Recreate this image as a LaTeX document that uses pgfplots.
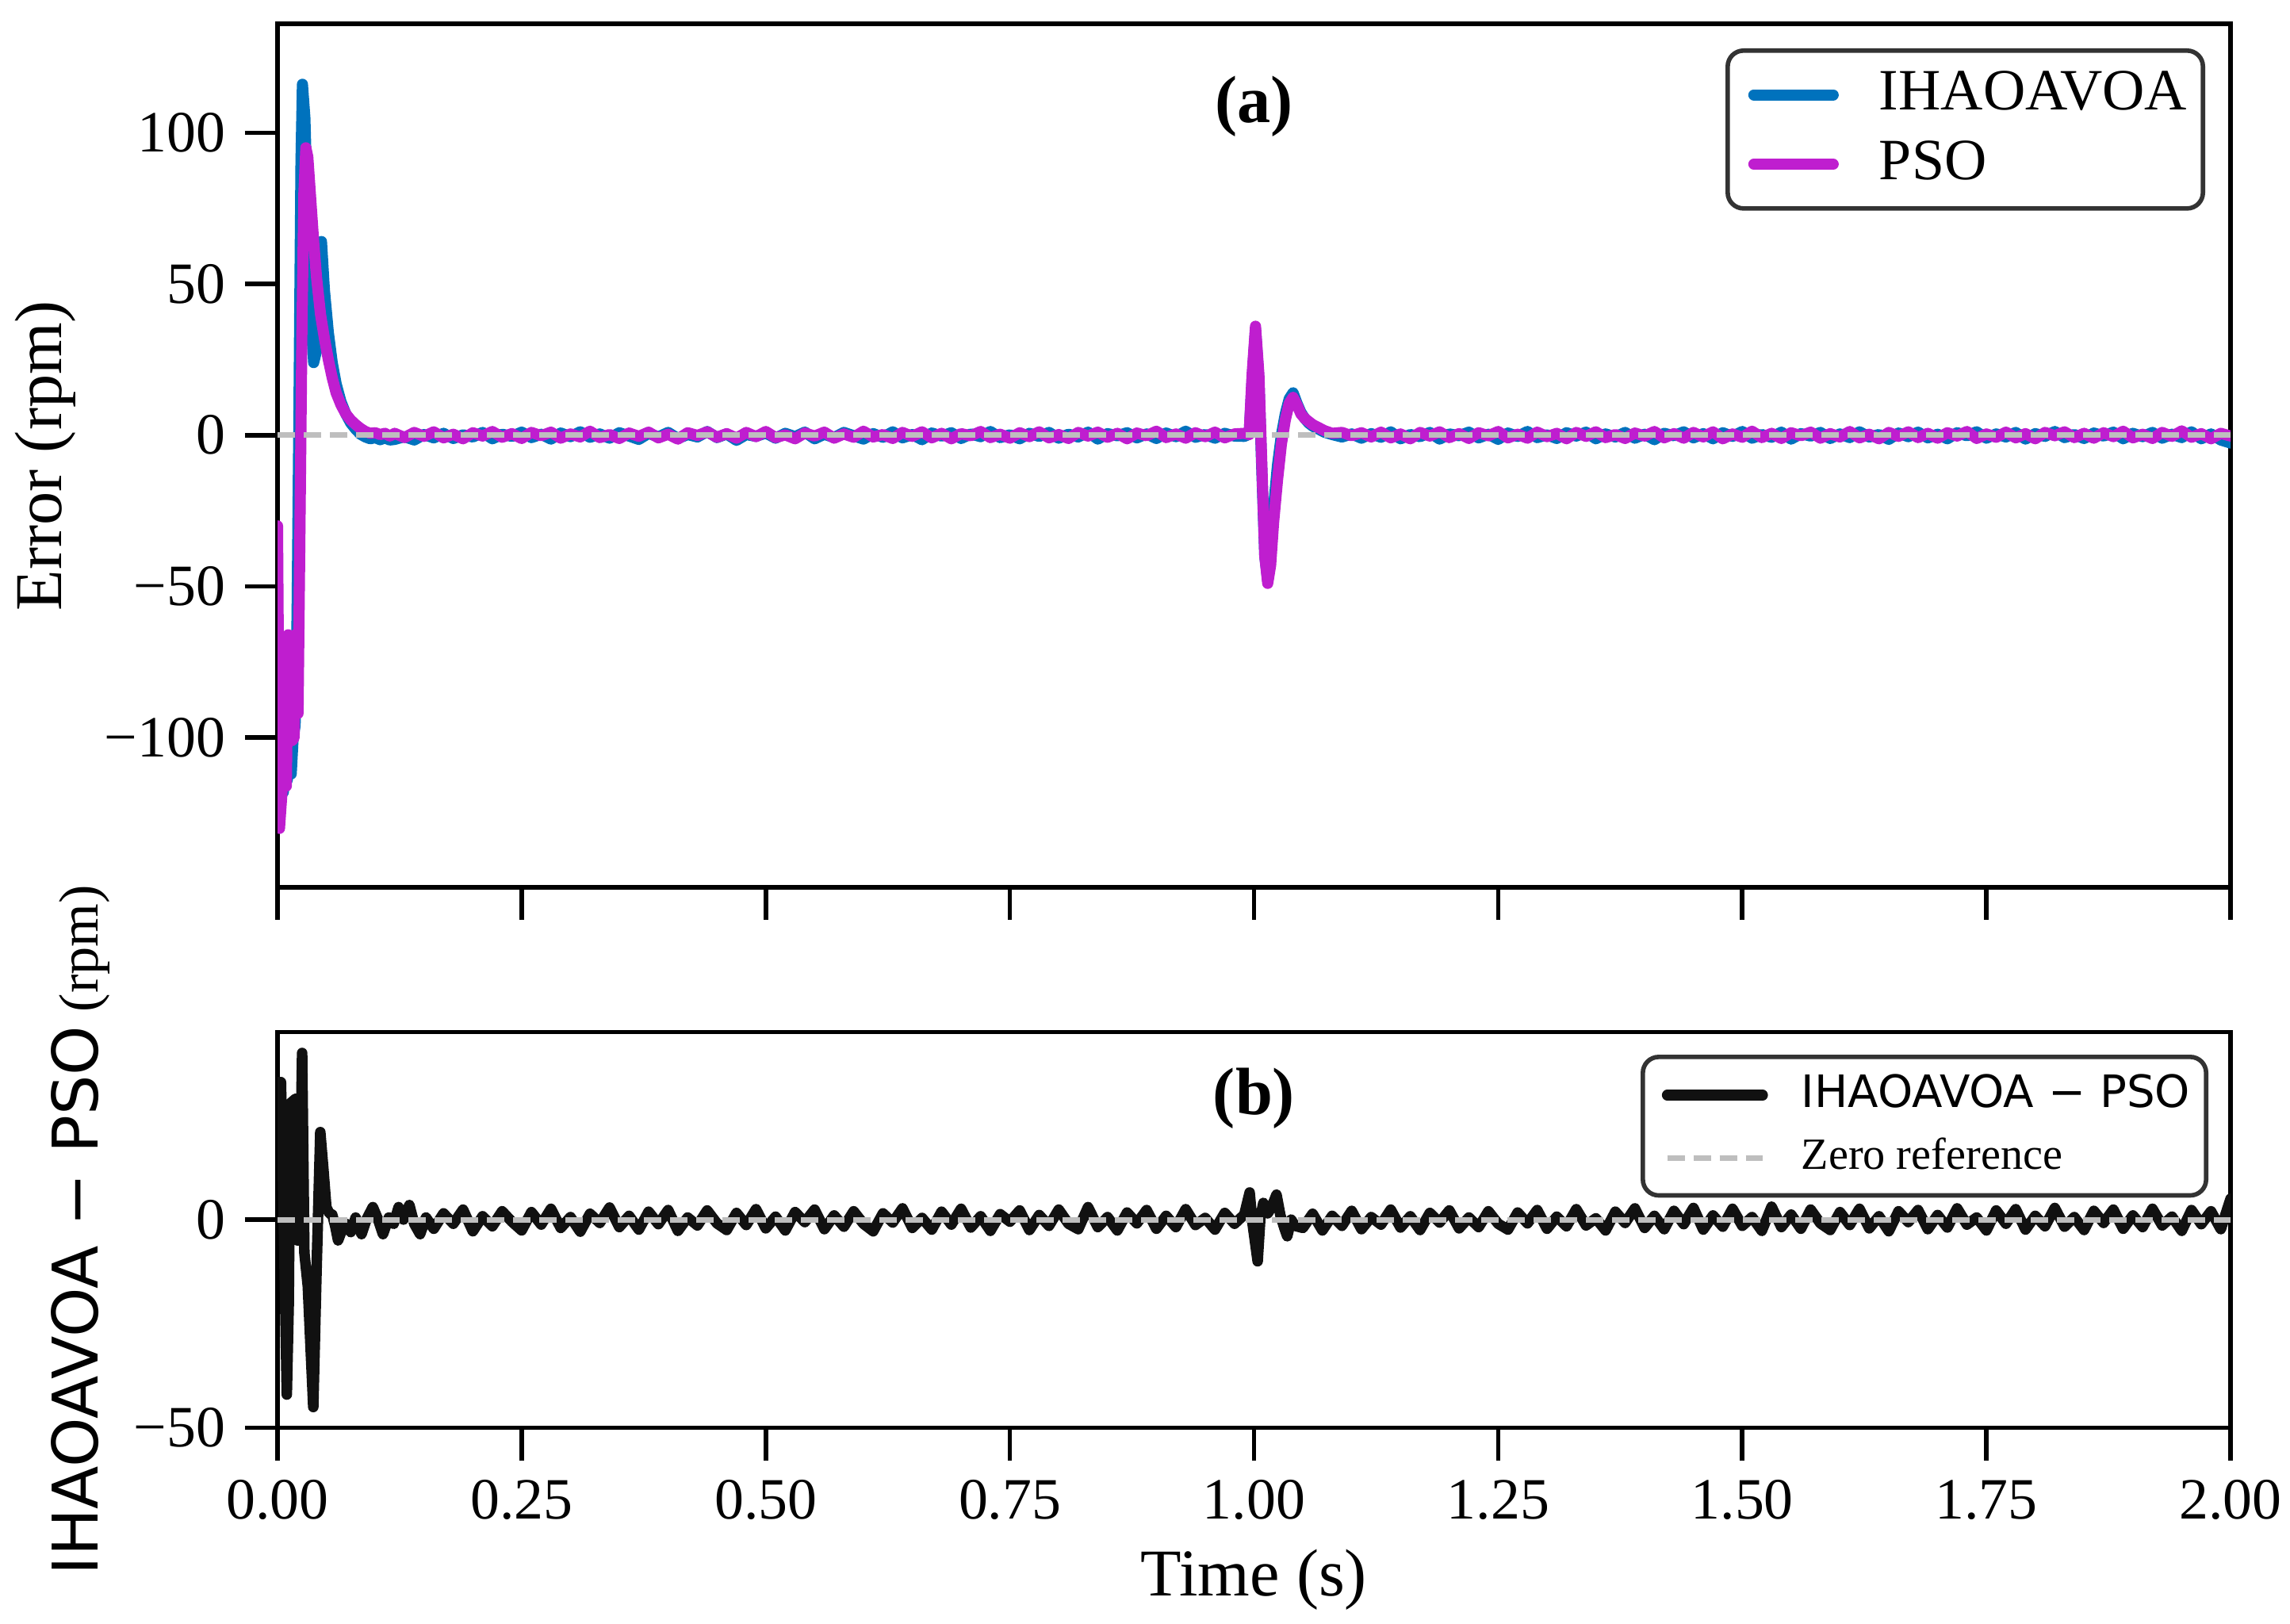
\documentclass[border=0pt]{standalone}
\usepackage{fontspec}
\setmainfont{Liberation Serif}
\newfontfamily\dejavu{DejaVu Sans}
\usepackage{pgfplots}
\pgfplotsset{compat=1.18}
\definecolor{cblue}{RGB}{0,114,189}
\definecolor{cmag}{RGB}{191,30,207}
\definecolor{czero}{RGB}{190,190,190}
\definecolor{cblk}{RGB}{17,17,17}
\pgfplotsset{
  myaxis/.style={
    scale only axis, width=123.15mm, xmin=0, xmax=2,
    anchor=south west,
    axis line style={line width=0.8pt, black},
    tick align=outside, major tick length=2.05mm,
    every tick/.style={black, line width=0.8pt},
    xtick={0,0.25,0.5,0.75,1,1.25,1.5,1.75,2},
    xtick pos=bottom, ytick pos=left,
    tick label style={font=\fontsize{10.5}{12}\selectfont},
    /pgf/number format/assume math mode=true,
    legend cell align=left,
  },
  zeroline/.style={czero, line width=1pt, dash pattern=on 1.1mm off 0.55mm},
}
\begin{document}
\begin{tikzpicture}
\useasboundingbox (0,0) rectangle (144.4mm,102.35mm);
% ---------------- top panel ----------------
\begin{axis}[myaxis, at={(17.5mm,46.4mm)}, height=54.45mm,
  ymin=-149.5, ymax=136,
  ytick={-100,-50,0,50,100}, yticklabels={−100,−50,0,50,100},
  xticklabels={},
  ylabel={Error (rpm)},
  ylabel style={at={(axis description cs:-0.119,0.5)}, anchor=center, font=\fontsize{12}{14}\selectfont},
  legend image code/.code={\draw[#1] (0mm,0mm) ++(1.0mm,0mm) -- (6.0mm,0mm);},
  legend style={at={(1,1)}, xshift=-1.6mm, yshift=-1.55mm, anchor=north east,
    draw=black!80, line width=0.8pt, rounded corners=1mm,
    font=\fontsize{10.5}{12.5}\selectfont, inner xsep=0.3mm, inner ysep=0.6mm,
    row sep=0pt, /tikz/every odd column/.append style={column sep=1.85mm}},
]
\addplot[cblue, line width=2pt, line join=round, line cap=round] coordinates {
(0.000,-120)(0.002,-128)(0.004,-112)(0.006,-118)(0.008,-106)(0.010,-114)(0.012,-108)(0.014,-112)(0.016,-100)(0.018,-96)
(0.020,-60)(0.022,10)(0.024,90)(0.0255,116)(0.028,105)(0.031,70)(0.034,40)(0.037,24)(0.040,28)(0.042,55)(0.045,64)
(0.048,48)(0.052,34)(0.056,24)(0.060,17)(0.065,11)(0.070,7)(0.075,4)(0.080,2)(0.085,0.3)(0.090,-0.6)(0.095,-1.2)
(0.100,-0.8)(0.105,-1.5)(0.110,-0.9)(0.115,-1.6)
(0.12,-1.4)(0.13,-0.5)(0.14,-1.6)(0.15,0.2)(0.16,-0.9)(0.17,0.6)(0.18,-1.1)(0.19,0.1)(0.20,-0.6)(0.21,0.9)
(0.22,-1.2)(0.23,0.3)(0.24,-0.4)(0.25,1.0)(0.26,-0.8)(0.27,0.3)(0.28,-1.3)(0.29,0.7)(0.30,-0.5)(0.31,1.1)
(0.32,-0.7)(0.33,0.4)(0.34,-1.0)(0.35,0.8)(0.36,-0.3)(0.37,-1.4)(0.38,0.6)(0.39,-0.6)(0.40,0.9)(0.41,-1.1)
(0.42,0.2)(0.43,-0.6)(0.44,1.2)(0.45,-0.8)(0.46,0.4)(0.47,-1.7)(0.48,0.2)(0.49,-0.4)(0.50,0.7)(0.51,-1.0)
(0.52,0.6)(0.53,-0.5)(0.54,1.0)(0.55,-1.2)(0.56,0.3)(0.57,-0.8)(0.58,0.9)(0.59,-0.2)(0.60,-1.3)(0.61,0.5)
(0.62,-0.7)(0.63,1.1)(0.64,-0.9)(0.65,0.2)(0.66,-1.5)(0.67,0.7)(0.68,-0.3)(0.69,0.8)(0.70,-1.1)(0.71,0.4)
(0.72,-0.5)(0.73,1.2)(0.74,-0.8)(0.75,0.1)(0.76,-1.2)(0.77,0.6)(0.78,-0.4)(0.79,0.9)(0.80,-1.0)(0.81,0.3)
(0.82,-0.6)(0.83,1.0)(0.84,-1.3)(0.85,0.5)(0.86,-0.2)(0.87,0.8)(0.88,-0.9)(0.89,0.4)(0.90,-1.1)(0.91,0.7)
(0.92,-0.5)(0.93,1.3)(0.94,-0.7)(0.95,0.2)(0.96,-1.0)(0.97,0.6)(0.98,-0.3)
(0.990,-0.4)(0.995,0.3)(0.998,18)(1.0015,35)(1.005,18)(1.008,-12)(1.011,-40)(1.014,-48)(1.017,-40)(1.020,-24)
(1.024,-10)(1.028,0)(1.032,7)(1.036,12)(1.040,14)(1.044,10.5)(1.048,7.5)(1.052,5.5)(1.056,4)(1.060,3)(1.066,2)
(1.072,1)(1.080,0.2)(1.090,-0.6)(1.100,0.4)
(1.11,-1.0)(1.12,0.5)(1.13,-0.7)(1.14,1.1)(1.15,-1.2)(1.16,0.2)(1.17,-0.5)(1.18,0.9)(1.19,-1.3)(1.20,0.4)
(1.21,-0.2)(1.22,1.0)(1.23,-0.9)(1.24,0.3)(1.25,-1.4)(1.26,0.7)(1.27,-0.4)(1.28,1.2)(1.29,-0.8)(1.30,0.1)
(1.31,-1.1)(1.32,0.8)(1.33,-0.3)(1.34,1.0)(1.35,-1.2)(1.36,0.4)(1.37,-0.6)(1.38,0.9)(1.39,-1.0)(1.40,0.3)
(1.41,-1.5)(1.42,0.6)(1.43,-0.2)(1.44,1.1)(1.45,-0.9)(1.46,0.5)(1.47,-1.2)(1.48,0.8)(1.49,-0.4)(1.50,1.2)
(1.51,-1.0)(1.52,0.2)(1.53,-0.7)(1.54,1.0)(1.55,-1.3)(1.56,0.5)(1.57,-0.3)(1.58,0.9)(1.59,-1.1)(1.60,0.4)
(1.61,-0.8)(1.62,1.1)(1.63,-0.6)(1.64,0.2)(1.65,-1.4)(1.66,0.7)(1.67,-0.5)(1.68,1.0)(1.69,-0.9)(1.70,0.3)
(1.71,-1.2)(1.72,0.8)(1.73,-0.2)(1.74,1.1)(1.75,-1.0)(1.76,0.4)(1.77,-0.6)(1.78,0.9)(1.79,-1.3)(1.80,0.5)
(1.81,-0.4)(1.82,1.2)(1.83,-0.8)(1.84,0.2)(1.85,-1.1)(1.86,0.7)(1.87,-0.3)(1.88,1.0)(1.89,-1.2)(1.90,0.6)
(1.91,-0.5)(1.92,0.9)(1.93,-1.0)(1.94,0.3)(1.95,-0.8)(1.96,1.1)(1.97,-1.2)(1.98,0.4)(1.99,-1.6)(2.00,-2.6)
};
\addlegendentry{IHAOAVOA}
\addplot[cmag, line width=2pt, line join=round, line cap=round] coordinates {
(0.000,-30)(0.002,-130)(0.005,-116)(0.007,-108)(0.009,-116)(0.011,-66)(0.013,-70)(0.015,-101)(0.017,-100)(0.018,-66)
(0.020,-70)(0.021,-92)(0.023,-30)(0.025,35)(0.027,80)(0.029,95)(0.031,92)(0.034,78)(0.037,64)(0.040,52)(0.044,40)
(0.048,32)(0.052,25)(0.056,19)(0.060,14)(0.065,10)(0.070,7)(0.075,5)(0.080,3.5)(0.085,2.2)(0.090,1.2)(0.095,0.6)
(0.100,0.8)(0.105,0.2)(0.110,0.6)(0.115,-0.3)
(0.12,0.6)(0.13,-0.8)(0.14,0.9)(0.15,-0.4)(0.16,1.1)(0.17,-0.9)(0.18,0.3)(0.19,-1.2)(0.20,0.8)(0.21,-0.3)
(0.22,1.2)(0.23,-0.7)(0.24,0.5)(0.25,-1.1)(0.26,0.9)(0.27,-0.2)(0.28,1.0)(0.29,-1.0)(0.30,0.4)(0.31,-0.6)
(0.32,1.3)(0.33,-0.8)(0.34,0.2)(0.35,-1.1)(0.36,0.7)(0.37,-0.4)(0.38,1.0)(0.39,-0.9)(0.40,0.3)(0.41,-1.3)
(0.42,0.8)(0.43,-0.1)(0.44,1.1)(0.45,-0.7)(0.46,0.5)(0.47,-1.0)(0.48,0.9)(0.49,-0.5)(0.50,1.2)(0.51,-0.8)
(0.52,0.1)(0.53,-1.2)(0.54,0.7)(0.55,-0.3)(0.56,1.0)(0.57,-1.0)(0.58,0.4)(0.59,-0.7)(0.60,1.3)(0.61,-0.6)
(0.62,0.2)(0.63,-1.1)(0.64,0.9)(0.65,-0.4)(0.66,1.1)(0.67,-0.9)(0.68,0.6)(0.69,-1.2)(0.70,0.5)(0.71,-0.2)
(0.72,1.2)(0.73,-0.8)(0.74,0.3)(0.75,-1.0)(0.76,0.8)(0.77,-0.5)(0.78,1.1)(0.79,-0.9)(0.80,0.2)(0.81,-1.1)
(0.82,0.9)(0.83,-0.3)(0.84,1.0)(0.85,-0.7)(0.86,0.6)(0.87,-1.2)(0.88,0.7)(0.89,-0.2)(0.90,1.3)(0.91,-0.8)
(0.92,0.4)(0.93,-1.0)(0.94,0.8)(0.95,-0.5)(0.96,1.0)(0.97,-0.9)(0.98,0.4)
(0.990,0.6)(0.995,0.2)(0.998,20)(1.0015,36)(1.005,20)(1.008,-10)(1.011,-40)(1.014,-49)(1.017,-43)(1.020,-29)
(1.024,-15)(1.028,-3)(1.032,5)(1.036,10.5)(1.040,12.5)(1.044,10)(1.048,7)(1.052,5.5)(1.056,4.5)(1.060,3.5)
(1.066,2.5)(1.072,1.5)(1.080,0.6)(1.090,0.9)(1.100,-0.2)
(1.11,0.8)(1.12,-0.6)(1.13,1.0)(1.14,-0.9)(1.15,0.4)(1.16,-1.2)(1.17,0.9)(1.18,-0.3)(1.19,1.1)(1.20,-0.8)
(1.21,0.5)(1.22,-1.1)(1.23,0.8)(1.24,-0.2)(1.25,1.2)(1.26,-0.9)(1.27,0.3)(1.28,-1.0)(1.29,1.0)(1.30,-0.5)
(1.31,0.6)(1.32,-1.2)(1.33,0.9)(1.34,-0.4)(1.35,1.1)(1.36,-0.8)(1.37,0.2)(1.38,-1.1)(1.39,0.7)(1.40,-0.3)
(1.41,1.2)(1.42,-0.9)(1.43,0.5)(1.44,-1.0)(1.45,0.9)(1.46,-0.6)(1.47,1.1)(1.48,-1.2)(1.49,0.4)(1.50,-0.7)
(1.51,1.3)(1.52,-0.8)(1.53,0.6)(1.54,-1.1)(1.55,0.8)(1.56,-0.2)(1.57,1.0)(1.58,-1.0)(1.59,0.5)(1.60,-0.6)
(1.61,1.2)(1.62,-0.9)(1.63,0.3)(1.64,-1.2)(1.65,0.9)(1.66,-0.4)(1.67,1.1)(1.68,-0.8)(1.69,0.6)(1.70,-1.0)
(1.71,0.8)(1.72,-0.3)(1.73,1.2)(1.74,-1.1)(1.75,0.4)(1.76,-0.7)(1.77,1.0)(1.78,-0.9)(1.79,0.5)(1.80,-1.2)
(1.81,0.9)(1.82,-0.2)(1.83,1.1)(1.84,-0.8)(1.85,0.6)(1.86,-1.0)(1.87,0.8)(1.88,-0.5)(1.89,1.3)(1.90,-0.9)
(1.91,0.3)(1.92,-1.1)(1.93,0.9)(1.94,-0.4)(1.95,1.4)(1.96,-0.7)(1.97,0.5)(1.98,-1.2)(1.99,0.6)(2.00,-0.3)
};
\addlegendentry{PSO}
\addplot[zeroline, forget plot] coordinates {(0,0)(2,0)};
\node[font=\bfseries\fontsize{12}{14}\selectfont, anchor=center] at (rel axis cs:0.5,1) [yshift=-5.2mm] {(a)};
\end{axis}
% ---------------- bottom panel ----------------
\begin{axis}[myaxis, at={(17.5mm,12.32mm)}, height=24.95mm,
  ymin=-50, ymax=45,
  ytick={-50,0}, yticklabels={−50,0},
  xticklabels={0.00,0.25,0.50,0.75,1.00,1.25,1.50,1.75,2.00},
  xlabel={Time (s)},
  xlabel style={at={(axis description cs:0.5,0)}, anchor=center, yshift=-9.6mm, font=\fontsize{12}{14}\selectfont},
  ylabel={{\dejavu\fontsize{11.3}{13}\selectfont IHAOAVOA − PSO} (rpm)},
  ylabel style={at={(axis description cs:-0.101,0.5)}, anchor=center, font=\fontsize{10}{12}\selectfont},
  legend image code/.code={\draw[#1] (0mm,0mm) ++(0.9mm,0mm) -- (6.92mm,0mm);},
  legend style={at={(1,1)}, xshift=-1.4mm, yshift=-1.42mm, anchor=north east,
    draw=black!80, line width=0.8pt, rounded corners=1mm,
    font=\fontsize{8}{10}\selectfont, inner xsep=0.3mm, inner ysep=0.4mm,
    row sep=0pt, /tikz/every odd column/.append style={column sep=1.4mm}},
]
\addplot[cblk, line width=1.9pt, line join=round, line cap=round] coordinates {
(0.000,33)(0.0035,33)(0.006,5)(0.0095,-42)(0.0115,-20)(0.012,-5)(0.0135,28)(0.0185,29)(0.0205,-5)(0.022,-5)
(0.0252,40)(0.0275,-8)(0.031,-16)(0.0366,-45)(0.040,-12)(0.0438,21)(0.047,12)(0.050,3)(0.053,1.5)(0.056,1.2)
(0.059,-1.5)(0.062,-5)(0.066,-2.5)(0.070,-1)(0.075,-3)(0.080,0.5)(0.086,-3.5)(0.091,0)(0.0976,3)(0.103,0)
(0.108,-3.5)(0.114,0.5)(0.119,-1)(0.124,3)(0.129,0)(0.135,3.5)(0.140,-1)(0.146,-3.5)(0.152,0.5)
(0.16,-2.2)(0.17,1.5)(0.18,-1.0)(0.19,2.4)(0.20,-2.8)(0.21,0.8)(0.22,-1.6)(0.23,2.0)(0.24,-0.5)(0.25,-2.6)
(0.26,1.8)(0.27,-1.2)(0.28,2.6)(0.29,-2.0)(0.30,0.6)(0.31,-2.9)(0.32,1.4)(0.33,-0.8)(0.34,2.9)(0.35,-1.8)
(0.36,0.9)(0.37,-2.4)(0.38,1.9)(0.39,-1.1)(0.40,2.3)(0.41,-2.7)(0.42,0.5)(0.43,-1.4)(0.44,2.2)(0.45,-0.9)
(0.46,-2.5)(0.47,1.6)(0.48,-1.3)(0.49,2.5)(0.50,-2.1)(0.51,0.7)(0.52,-2.6)(0.53,1.8)(0.54,-0.6)(0.55,2.4)
(0.56,-2.3)(0.57,1.0)(0.58,-1.7)(0.59,2.0)(0.60,-1.0)(0.61,-2.8)(0.62,1.5)(0.63,-0.7)(0.64,2.7)(0.65,-2.0)
(0.66,0.4)(0.67,-2.4)(0.68,1.9)(0.69,-1.2)(0.70,2.6)(0.71,-1.9)(0.72,0.8)(0.73,-2.7)(0.74,1.3)(0.75,-0.5)
(0.76,2.2)(0.77,-2.5)(0.78,1.1)(0.79,-1.5)(0.80,2.4)(0.81,-1.0)(0.82,-2.3)(0.83,3.0)(0.84,-1.8)(0.85,0.6)
(0.86,-2.6)(0.87,1.7)(0.88,-0.9)(0.89,2.3)(0.90,-2.2)(0.91,0.9)(0.92,-1.8)(0.93,2.5)(0.94,-1.3)(0.95,0.4)
(0.96,-2.4)(0.97,1.6)(0.98,-1.0)
(0.99,1.2)(0.9955,6.5)(0.9985,-1)(1.0037,-10)(1.0065,0.5)(1.0095,4)(1.014,1.5)(1.018,3)(1.023,6)(1.027,1)
(1.031,-2)(1.034,-4)(1.038,0)(1.042,-1.5)
(1.05,-2.0)(1.06,1.4)(1.07,-2.6)(1.08,0.9)(1.09,-1.5)(1.10,2.1)(1.11,-2.3)(1.12,0.6)(1.13,-1.2)(1.14,2.4)
(1.15,-1.9)(1.16,0.8)(1.17,-2.5)(1.18,1.6)(1.19,-0.7)(1.20,2.2)(1.21,-2.1)(1.22,0.5)(1.23,-1.8)(1.24,2.0)
(1.25,-1.0)(1.26,-2.4)(1.27,1.7)(1.28,-0.9)(1.29,2.3)(1.30,-2.2)(1.31,0.7)(1.32,-1.6)(1.33,2.5)(1.34,-1.4)
(1.35,0.3)(1.36,-2.6)(1.37,1.9)(1.38,-0.8)(1.39,2.7)(1.40,-2.0)(1.41,0.9)(1.42,-2.3)(1.43,2.1)(1.44,-1.1)
(1.45,2.8)(1.46,-2.4)(1.47,1.0)(1.48,-1.7)(1.49,2.6)(1.50,-1.5)(1.51,0.6)(1.52,-2.7)(1.53,3.1)(1.54,-1.8)
(1.55,1.2)(1.56,-2.2)(1.57,2.4)(1.58,-0.9)(1.59,-2.5)(1.60,1.8)(1.61,-1.3)(1.62,2.6)(1.63,-2.1)(1.64,0.8)
(1.65,-2.8)(1.66,2.0)(1.67,-0.6)(1.68,2.3)(1.69,-2.3)(1.70,1.1)(1.71,-1.9)(1.72,2.7)(1.73,-1.2)(1.74,0.5)
(1.75,-2.6)(1.76,2.2)(1.77,-1.0)(1.78,2.5)(1.79,-2.4)(1.80,0.9)(1.81,-1.6)(1.82,2.8)(1.83,-1.7)(1.84,0.6)
(1.85,-2.5)(1.86,2.1)(1.87,-0.8)(1.88,2.4)(1.89,-2.2)(1.90,1.0)(1.91,-1.8)(1.92,2.6)(1.93,-1.4)(1.94,0.7)
(1.95,-2.7)(1.96,2.3)(1.97,-1.1)(1.98,2.0)(1.99,-2.3)(2.00,5.0)
};
\addlegendentry{{\dejavu IHAOAVOA − PSO}}
\addplot[zeroline] coordinates {(0,0)(2,0)};
\addlegendentry{Zero reference}
\node[font=\bfseries\fontsize{12}{14}\selectfont, anchor=center] at (rel axis cs:0.5,1) [yshift=-4.18mm] {(b)};
\end{axis}
\end{tikzpicture}
\end{document}
